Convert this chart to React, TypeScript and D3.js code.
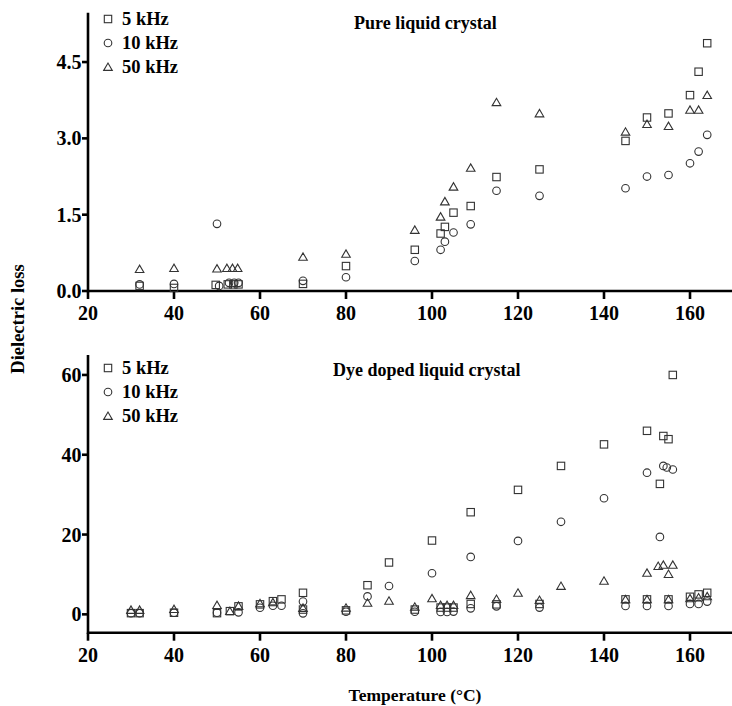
import React from 'react';
import * as d3 from 'd3';

const xTicks = [20, 40, 60, 80, 100, 120, 140, 160];
const pureYTicks = [0, 1.5, 3.0, 4.5];
const dyeYTicks = [0, 20, 40, 60];
const legendLabels = ['5 kHz', '10 kHz', '50 kHz'];
const panelTitles = ['Pure liquid crystal', 'Dye doped liquid crystal'];

// Pure liquid crystal: [temperature, dielectric loss]
const pure5kHz: [number, number][] = [
  [32, 0.1], [40, 0.06], [49.7, 0.12], [52.5, 0.13], [53.8, 0.13], [55, 0.13], [70, 0.14], [80, 0.49],
  [96, 0.81], [102, 1.13], [103, 1.26], [105, 1.54], [109, 1.67], [115, 2.24], [125, 2.39],
  [145, 2.95], [150, 3.41], [155, 3.49], [160, 3.85], [162, 4.31], [164, 4.87],
];
const pure10kHz: [number, number][] = [
  [32, 0.13], [40, 0.14], [50, 1.32], [50.5, 0.1], [52.8, 0.16], [54, 0.16], [55, 0.16], [70, 0.2], [80, 0.27],
  [96, 0.59], [102, 0.81], [103, 0.97], [105, 1.15], [109, 1.31], [115, 1.97], [125, 1.87],
  [145, 2.02], [150, 2.25], [155, 2.28], [160, 2.51], [162, 2.74], [164, 3.07],
];
const pure50kHz: [number, number][] = [
  [32, 0.43], [40, 0.45], [50, 0.44], [52.3, 0.45], [53.6, 0.45], [54.8, 0.45], [70, 0.67], [80, 0.73],
  [96, 1.2], [102, 1.46], [103, 1.76], [105, 2.05], [109, 2.42], [115, 3.71], [125, 3.49],
  [145, 3.13], [150, 3.28], [155, 3.24], [160, 3.56], [162, 3.56], [164, 3.85],
];

// Dye doped liquid crystal
const dye5kHz: [number, number][] = [
  [30, 0.3], [32, 0.3], [40, 0.4], [50, 0.3], [53, 0.8], [55, 2.0], [60, 2.5], [63, 3.3], [65, 3.75],
  [70, 5.4], [70, 1.2], [80, 1.0], [85, 7.3], [90, 13.0], [96, 1.2], [100, 18.5], [102, 1.7], [103.5, 1.7],
  [105, 1.7], [109, 25.6], [109, 2.6], [115, 2.5], [120, 31.2], [125, 2.6], [130, 37.2], [140, 42.6],
  [145, 3.75], [150, 46.0], [150, 3.75], [153, 32.7], [153.8, 44.7], [155, 43.9], [155, 3.75], [156, 60.0],
  [160, 4.4], [162, 5.0], [164, 5.4],
];
const dye10kHz: [number, number][] = [
  [30, 0.3], [32, 0.3], [40, 0.4], [50, 0.4], [55, 0.5], [60, 1.65], [63, 2.15], [65, 2.15], [70, 3.2],
  [70, 0.25], [80, 0.65], [85, 4.5], [90, 7.1], [96, 0.65], [100, 10.3], [102, 0.6], [103.5, 0.6], [105, 0.7],
  [109, 14.4], [109, 1.5], [115, 2.0], [120, 18.4], [125, 1.7], [130, 23.2], [140, 29.1], [145, 2.1],
  [150, 35.5], [150, 2.1], [153, 19.4], [153.8, 37.2], [154.6, 36.8], [156, 36.3], [155, 2.1],
  [160, 2.6], [162, 2.6], [164, 3.2],
];
const dye50kHz: [number, number][] = [
  [30, 1.1], [32, 1.1], [40, 1.3], [50, 2.3], [53, 0.8], [55, 2.1], [60, 2.75], [63, 3.0], [70, 1.6],
  [80, 1.65], [85, 2.9], [90, 3.4], [96, 1.9], [100, 4.0], [102, 2.3], [103.5, 2.3], [105, 2.3], [109, 4.8],
  [115, 3.85], [120, 5.4], [125, 3.6], [130, 7.1], [140, 8.4], [145, 3.75], [150, 10.4], [150, 3.75],
  [152.6, 12.1], [153.8, 12.4], [155, 10.1], [156, 12.4], [155, 3.75], [160, 4.0], [162, 4.2], [164, 4.5],
];

const FONT = '"Liberation Serif", "Times New Roman", serif';
const INK = '#000';
const MARK = '#333';

type Shape = 'square' | 'circle' | 'triangle';
const shapes: Shape[] = ['square', 'circle', 'triangle'];

function Marker({ shape, x, y }: { shape: Shape; x: number; y: number }) {
  const common = { fill: 'none', stroke: MARK, strokeWidth: 1.1 };
  if (shape === 'square') return <rect x={x - 3.7} y={y - 3.7} width={7.4} height={7.4} {...common} />;
  if (shape === 'circle') return <circle cx={x} cy={y} r={3.8} {...common} />;
  return <path d={`M${x - 4.3},${y + 3.4}L${x},${y - 4}L${x + 4.3},${y + 3.4}Z`} {...common} />;
}

interface PanelProps {
  yDomain: [number, number];
  yRange: [number, number];
  yTicks: number[];
  fmt: (v: number) => string;
  series: [number, number][][];
  title: string;
  titleX: number;
  titleY: number;
  legendY: number[];
}

function Panel({ yDomain, yRange, yTicks, fmt, series, title, titleX, titleY, legendY }: PanelProps) {
  const x = d3.scaleLinear().domain([20, 170]).range([88, 733]);
  const y = d3.scaleLinear().domain(yDomain).range(yRange);
  const axisY = y(yDomain[0]);
  const x0 = x(20);
  return (
    <g>
      <line x1={x0} x2={733} y1={axisY} y2={axisY} stroke={INK} strokeWidth={2.6} />
      <line x1={x0} x2={x0} y1={y(yDomain[1])} y2={axisY + 1.3} stroke={INK} strokeWidth={2.6} />
      {xTicks.map((t) => (
        <g key={t}>
          <line x1={x(t)} x2={x(t)} y1={axisY} y2={axisY + 8} stroke={INK} strokeWidth={2.6} />
          <text x={x(t)} y={axisY + 29} textAnchor="middle" fontFamily={FONT} fontWeight="bold" fontSize={20}>
            {t}
          </text>
        </g>
      ))}
      {yTicks.map((v) => (
        <g key={v}>
          <line x1={x0 - 6} x2={x0} y1={y(v)} y2={y(v)} stroke={INK} strokeWidth={2.6} />
          <text x={x0 - 6.5} y={y(v) + 7} textAnchor="end" fontFamily={FONT} fontWeight="bold" fontSize={20}>
            {fmt(v)}
          </text>
        </g>
      ))}
      {series.map((s, i) =>
        s.map(([t, v], j) => <Marker key={`${i}-${j}`} shape={shapes[i]} x={x(t)} y={y(v)} />)
      )}
      {legendLabels.map((lab, i) => (
        <g key={lab}>
          <Marker shape={shapes[i]} x={108} y={legendY[i]} />
          <text x={122} y={legendY[i] + 6} fontFamily={FONT} fontWeight="bold" fontSize={18.5}>
            {lab}
          </text>
        </g>
      ))}
      <text x={titleX} y={titleY} fontFamily={FONT} fontWeight="bold" fontSize={18}>
        {title}
      </text>
    </g>
  );
}

export default function App() {
  return (
    <svg
      width={732}
      height={706}
      viewBox="0 0 732 706"
      style={{ position: 'absolute', left: 0, top: 0, background: '#fff', overflow: 'hidden' }}
    >
      <rect width={732} height={706} fill="#fff" />
      <Panel
        yDomain={[0, 5.47]}
        yRange={[291, 12.7]}
        yTicks={pureYTicks}
        fmt={(v) => v.toFixed(1)}
        series={[pure5kHz, pure10kHz, pure50kHz]}
        title={panelTitles[0]}
        titleX={354}
        titleY={29}
        legendY={[19, 43, 67]}
      />
      <Panel
        yDomain={[-4.6, 65]}
        yRange={[632.7, 355]}
        yTicks={dyeYTicks}
        fmt={(v) => String(v)}
        series={[dye5kHz, dye10kHz, dye50kHz]}
        title={panelTitles[1]}
        titleX={333}
        titleY={376}
        legendY={[368, 392, 416]}
      />
      <text
        transform="translate(24,319) rotate(-90)"
        textAnchor="middle"
        fontFamily={FONT}
        fontWeight="bold"
        fontSize={18.5}
      >
        Dielectric loss
      </text>
      <text x={415} y={701} textAnchor="middle" fontFamily={FONT} fontWeight="bold" fontSize={17.5}>
        Temperature (°C)
      </text>
    </svg>
  );
}
